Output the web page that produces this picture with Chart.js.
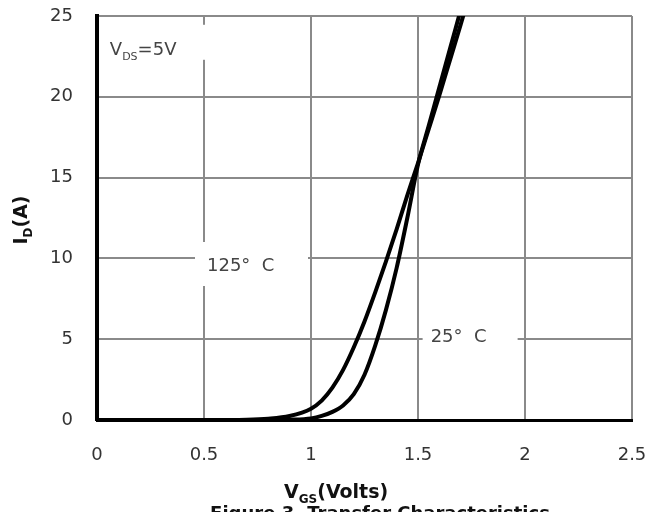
<!DOCTYPE html>
<html>
<head>
<meta charset="utf-8">
<script src="https://cdn.jsdelivr.net/npm/chart.js@4"></script>
<style>
  html, body { margin: 0; padding: 0; background: #fff; overflow: hidden; }
  #wrap { width: 667px; height: 512px; position: relative; }
</style>
</head>
<body>
<div id="wrap"><canvas id="grafico"></canvas></div>
<script>
// Datos
const vgs25 = [0, 0.5, 0.8, 0.9, 1.0, 1.05, 1.1, 1.15, 1.2, 1.25, 1.3, 1.35, 1.4, 1.45, 1.5, 1.55, 1.6, 1.65, 1.7];
const id25 = [0, 0, 0, 0.02, 0.1, 0.25, 0.5, 0.9, 1.6, 2.8, 4.6, 6.8, 9.4, 12.5, 15.8, 18.2, 20.6, 23.0, 25.4];
const vgs125 = [0, 0.5, 0.7, 0.8, 0.9, 1.0, 1.05, 1.1, 1.15, 1.2, 1.25, 1.3, 1.35, 1.4, 1.45, 1.5, 1.55, 1.6, 1.65, 1.7, 1.72];
const id125 = [0, 0, 0.02, 0.08, 0.25, 0.7, 1.2, 2.0, 3.1, 4.5, 6.1, 7.9, 9.8, 11.8, 13.9, 15.9, 18.0, 20.1, 22.3, 24.5, 25.4];
const xTicks = [0, 0.5, 1, 1.5, 2, 2.5];
const xTickLabels = ['0', '0.5', '1', '1.5', '2', '2.5'];
const yTicks = [0, 5, 10, 15, 20, 25];
const yTickLabels = ['0', '5', '10', '15', '20', '25'];

const fuente = 'DejaVu Sans';

// dibuja texto con subindices: partes = [[texto, esSub], ...]
function textoSub(ctx, partes, x, y, size, bold) {
  let cx = x;
  partes.forEach(p => {
    const s = p[1] ? Math.round(size * 0.62) : size;
    ctx.font = (bold ? 'bold ' : '') + s + 'px "' + fuente + '"';
    ctx.fillText(p[0], cx, p[1] ? y + size * 0.28 : y);
    cx += ctx.measureText(p[0]).width;
  });
  return cx - x;
}
function anchoSub(ctx, partes, size, bold) {
  let w = 0;
  partes.forEach(p => {
    const s = p[1] ? Math.round(size * 0.62) : size;
    ctx.font = (bold ? 'bold ' : '') + s + 'px "' + fuente + '"';
    w += ctx.measureText(p[0]).width;
  });
  return w;
}

// etiquetas dentro del grafico (con fondo blanco sobre la rejilla)
const etiquetas = {
  id: 'etiquetas',
  beforeDatasetsDraw(chart) {
    const ctx = chart.ctx;
    const xs = chart.scales.x, ys = chart.scales.y;
    ctx.save();
    ctx.textAlign = 'left';
    ctx.textBaseline = 'alphabetic';

    // V_DS=5V
    let px = xs.getPixelForValue(0.06), py = ys.getPixelForValue(22.6);
    ctx.fillStyle = '#fff';
    ctx.fillRect(px - 8, py - 30, 115, 35);
    ctx.fillStyle = '#444';
    textoSub(ctx, [['V', false], ['DS', true], ['=5V', false]], px, py, 18, false);

    // 125 C
    px = xs.getPixelForValue(0.514); py = ys.getPixelForValue(9.22);
    ctx.fillStyle = '#fff';
    ctx.fillRect(px - 12, py - 29, 113, 44);
    ctx.fillStyle = '#444';
    ctx.font = '18px "' + fuente + '"';
    ctx.fillText('125°  C', px, py);

    // 25 C
    px = xs.getPixelForValue(1.559); py = ys.getPixelForValue(4.83);
    ctx.fillStyle = '#fff';
    ctx.fillRect(px - 8, py - 17, 95, 26);
    ctx.fillStyle = '#444';
    ctx.fillText('25°  C', px, py);
    ctx.restore();
  },
  afterDraw(chart) {
    const ctx = chart.ctx;
    ctx.save();
    ctx.fillStyle = '#111';
    ctx.textBaseline = 'alphabetic';

    // titulo eje x
    const px = [['V', false], ['GS', true], ['(Volts)', false]];
    textoSub(ctx, px, 284, 498, 19, true);

    // titulo eje y (rotado)
    const py = [['I', false], ['D', true], ['(A)', false]];
    const wy = anchoSub(ctx, py, 19, true);
    ctx.translate(27, 220);
    ctx.rotate(-Math.PI / 2);
    textoSub(ctx, py, -wy / 2, 0, 19, true);
    ctx.restore();

    // pie de figura (cortado por el borde)
    ctx.save();
    ctx.fillStyle = '#111';
    ctx.font = 'bold 18px "' + fuente + '"';
    ctx.textAlign = 'center';
    ctx.fillText('Figure 3. Transfer Characteristics', 380, 519);
    ctx.restore();
  }
};

const ctxGrafico = document.getElementById('grafico');

new Chart(ctxGrafico, {
  type: 'scatter',
  data: {
    datasets: [
      {
        label: '25° C',
        data: vgs25.map((v, i) => ({ x: v, y: id25[i] })),
        showLine: true,
        borderColor: '#000',
        borderWidth: 4,
        pointRadius: 0,
        cubicInterpolationMode: 'monotone'
      },
      {
        label: '125° C',
        data: vgs125.map((v, i) => ({ x: v, y: id125[i] })),
        showLine: true,
        borderColor: '#000',
        borderWidth: 4,
        pointRadius: 0,
        cubicInterpolationMode: 'monotone'
      }
    ]
  },
  options: {
    responsive: true,
    maintainAspectRatio: false,
    animation: false,
    events: [],
    layout: { padding: { top: 16, right: 35, left: 0, bottom: 0 } },
    plugins: {
      legend: { display: false },
      tooltip: { enabled: false }
    },
    scales: {
      x: {
        type: 'linear',
        min: 0,
        max: 2.5,
        afterBuildTicks: s => { s.ticks = xTicks.map(v => ({ value: v })); },
        afterFit: s => { s.height = 92; },
        ticks: {
          color: '#333',
          padding: 2,
          font: { family: fuente, size: 18 },
          callback: v => xTickLabels[xTicks.indexOf(v)]
        },
        grid: { color: '#8a8a8a', lineWidth: 2, drawTicks: true, tickLength: 23, tickColor: 'rgba(0,0,0,0)' },
        border: { color: '#000', width: 3 }
      },
      y: {
        type: 'linear',
        min: 0,
        max: 25,
        afterBuildTicks: s => { s.ticks = yTicks.map(v => ({ value: v })); },
        afterFit: s => { s.width = 97; },
        ticks: {
          color: '#333',
          padding: 2,
          font: { family: fuente, size: 18 },
          callback: v => yTickLabels[yTicks.indexOf(v)]
        },
        grid: { color: '#8a8a8a', lineWidth: 2, drawTicks: true, tickLength: 22, tickColor: 'rgba(0,0,0,0)' },
        border: { color: '#000', width: 4 }
      }
    }
  },
  plugins: [etiquetas]
});
</script>
</body>
</html>
